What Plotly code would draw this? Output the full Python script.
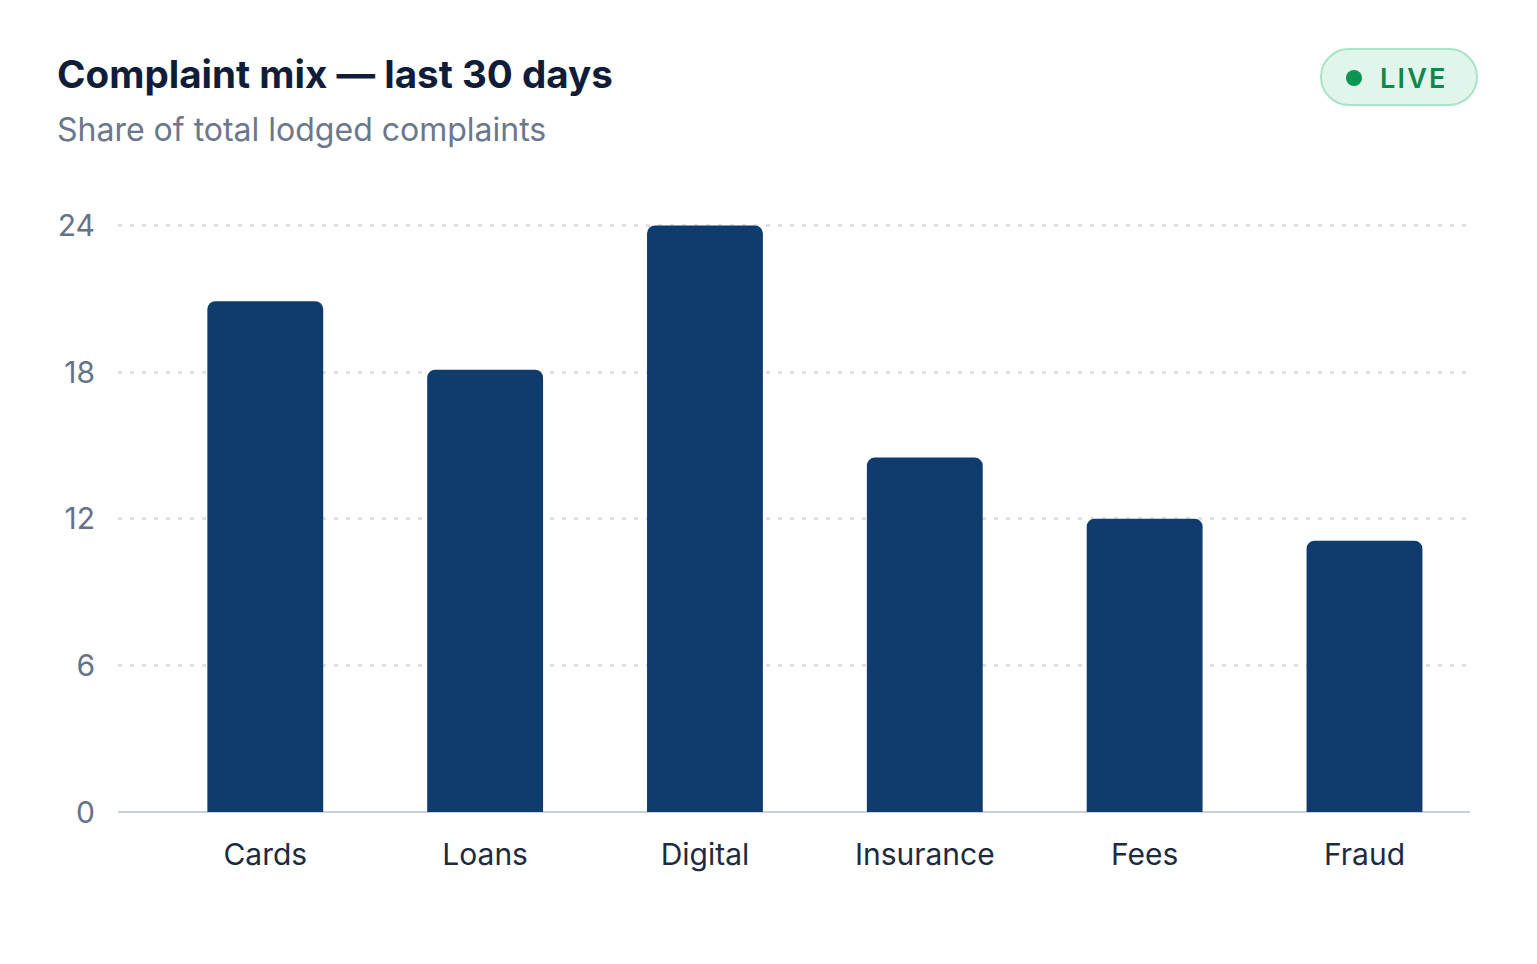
import plotly.graph_objects as go

# complaint share by category, last 30 days (% of total lodged)
categories = ["Cards", "Loans", "Digital", "Insurance", "Fees", "Fraud"]
share_pct = [20.9, 18.1, 24.0, 14.5, 12.0, 11.1]
y_ticks = [0, 6, 12, 18, 24]

# page body has an 8px margin, so the figure sits at (8, 8)
OFF = 8
W, H = 1537 - 2 * OFF, 964 - 2 * OFF
M_L, M_T = 118 - OFF, 223 - OFF
M_R = W - (1470 - OFF)
M_B = H - (812 - OFF)
PLOT_W = W - M_L - M_R
PLOT_H = H - M_T - M_B


def px_x(x):
    # page pixel -> paper x
    return (x - OFF - M_L) / PLOT_W


def px_y(y):
    # page pixel -> paper y
    return (H - M_B - (y - OFF)) / PLOT_H


fig = go.Figure()
fig.add_bar(
    x=categories,
    y=share_pct,
    marker=dict(color="#0f3b6d", cornerradius=8, line=dict(width=0)),
    hoverinfo="x+y",
)

# pill-shaped "LIVE" badge, drawn in pixel space around its centre
r = 28
hw = 78
k = 15.46
pill = (
    f"M {-hw + r},{r} L {hw - r},{r} "
    f"C {hw - r + k},{r} {hw},{k} {hw},0 "
    f"C {hw},{-k} {hw - r + k},{-r} {hw - r},{-r} "
    f"L {-hw + r},{-r} "
    f"C {-hw + r - k},{-r} {-hw},{-k} {-hw},0 "
    f"C {-hw},{k} {-hw + r - k},{r} {-hw + r},{r} Z"
)
badge_cx, badge_cy = px_x(1399), px_y(77)
fig.add_shape(
    type="path",
    xref="paper", yref="paper",
    xsizemode="pixel", ysizemode="pixel",
    xanchor=badge_cx, yanchor=badge_cy,
    path=pill,
    fillcolor="#e1f5eb",
    line=dict(color="#a9e3c8", width=2),
)
fig.add_shape(
    type="circle",
    xref="paper", yref="paper",
    xsizemode="pixel", ysizemode="pixel",
    xanchor=badge_cx, yanchor=badge_cy,
    x0=-53, x1=-37, y0=-9, y1=7,
    fillcolor="#0b9553",
    line=dict(width=0),
)

fig.add_annotation(
    text="L\u200aI\u200aV\u200aE",
    xref="paper", yref="paper",
    x=px_x(1378), y=px_y(78),
    xanchor="left", yanchor="middle",
    showarrow=False,
    font=dict(family="Inter", size=27, color="#0e874d", weight=600),
)
fig.add_annotation(
    text="Share of total lodged complaints",
    xref="paper", yref="paper",
    x=px_x(55), y=px_y(129),
    xanchor="left", yanchor="middle",
    showarrow=False,
    font=dict(family="Inter", size=32, color="#6b778c"),
)

fig.update_layout(
    width=W,
    height=H,
    margin=dict(l=M_L, r=M_R, t=M_T, b=M_B),
    paper_bgcolor="#ffffff",
    plot_bgcolor="#ffffff",
    showlegend=False,
    bargap=0.473,
    title=dict(
        text="<b>Complaint mix \u2014 last 30 days</b>",
        xref="container", yref="container",
        x=(57 - OFF) / W, y=1 - (74 - OFF) / H,
        xanchor="left", yanchor="middle",
        font=dict(family="Inter", size=38.6, color="#0f1d38"),
    ),
    font=dict(family="Inter"),
)
fig.update_xaxes(
    range=[-0.67, 5.48],
    showgrid=False,
    showline=False,
    ticks="",
    ticklabelstandoff=22,
    tickfont=dict(family="Inter", size=30, color="#1e2a3f"),
)
fig.update_yaxes(
    range=[0, 24.1],
    tickvals=y_ticks,
    showgrid=True,
    gridcolor="#dde2ea",
    gridwidth=3,
    griddash="4px,8px",
    zeroline=True,
    zerolinecolor="#c8d0dc",
    zerolinewidth=2,
    ticks="",
    ticklabelstandoff=22,
    tickfont=dict(family="Inter", size=30, color="#64728a"),
)

fig.write_html("out.html")
